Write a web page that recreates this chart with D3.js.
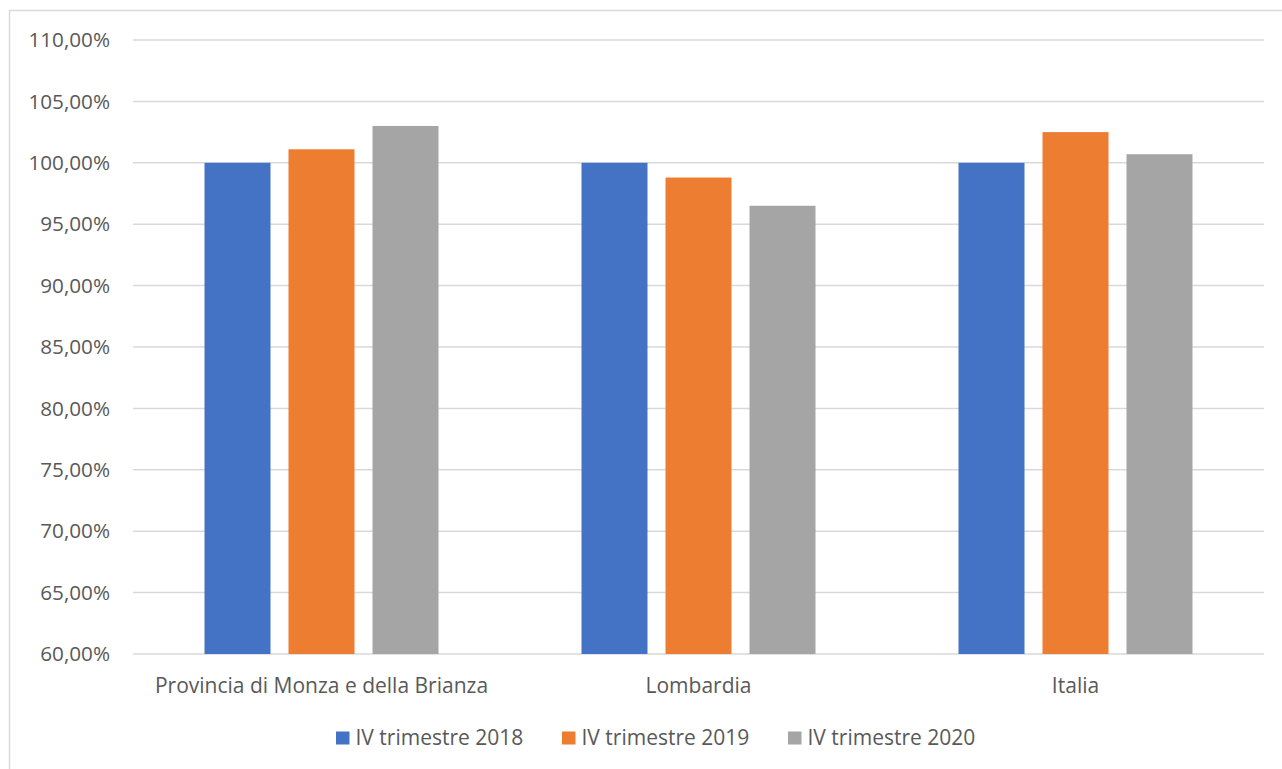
<!DOCTYPE html>
<html><head><meta charset="utf-8">
<script src="https://cdn.jsdelivr.net/npm/d3@7"></script>
<style>body{margin:0;background:#fff;} svg{display:block;}</style>
</head><body>
<script>
const categories = ["Provincia di Monza e della Brianza", "Lombardia", "Italia"];
const seriesNames = ["IV trimestre 2018", "IV trimestre 2019", "IV trimestre 2020"];
const values2018 = [100.0, 100.0, 100.0];
const values2019 = [101.1, 98.8, 102.5];
const values2020 = [103.0, 96.5, 100.7];
const yTicks = [60, 65, 70, 75, 80, 85, 90, 95, 100, 105, 110];
const colors = ["#4472C4", "#ED7D31", "#A5A5A5"];

const series = [values2018, values2019, values2020];
const W = 1282, H = 769;
const font = "'Open Sans', sans-serif";
const svg = d3.select("body").append("svg").attr("width", W).attr("height", H);
svg.append("rect").attr("x", 9.5).attr("y", 10.5).attr("width", W).attr("height", H)
  .attr("fill", "#fff").attr("stroke", "#d9d9d9").attr("stroke-width", 1.5);

const pLeft = 133, pRight = 1264, pTop = 40, pBottom = 654;
const x0 = d3.scaleBand().domain(categories).range([pLeft, pRight]).paddingInner(0).paddingOuter(0);
const x1 = d3.scaleBand().domain(seriesNames).range([71.5, x0.bandwidth() - 71.5]).paddingInner(18/84).paddingOuter(0);
const y = d3.scaleLinear().domain([60, 110]).range([pBottom, pTop]);

const grid = svg.append("g");
grid.selectAll("line").data(yTicks).join("line")
  .attr("x1", pLeft).attr("x2", pRight)
  .attr("y1", d => y(d)).attr("y2", d => y(d))
  .attr("stroke", "#d9d9d9").attr("stroke-width", 1.5);

const yAxis = d3.axisLeft(y).tickValues(yTicks)
  .tickFormat(d => d3.format(".2f")(d).replace(".", ",") + "%").tickSize(0).tickPadding(23);
const ya = svg.append("g").attr("transform", `translate(${pLeft},0)`).call(yAxis);
ya.select(".domain").remove();
ya.selectAll("text").attr("font-family", font).attr("font-size", 20.7).attr("fill", "#595959");

const groups = svg.append("g").selectAll("g").data(categories).join("g")
  .attr("transform", d => `translate(${x0(d)},0)`);
groups.selectAll("rect").data((c, i) => seriesNames.map((s, j) => ({s, v: series[j][i], j})))
  .join("rect")
  .attr("x", d => x1(d.s)).attr("width", x1.bandwidth())
  .attr("y", d => y(d.v)).attr("height", d => y(60) - y(d.v))
  .attr("fill", d => colors[d.j]);

const xAxis = d3.axisBottom(x0).tickSize(0).tickPadding(24);
const xa = svg.append("g").attr("transform", `translate(0,${pBottom})`).call(xAxis);
xa.select(".domain").remove();
xa.selectAll("text").attr("font-family", font).attr("font-size", 21).attr("fill", "#595959");

const legStep = 226, legStart = 336;
const leg = svg.append("g").selectAll("g").data(seriesNames).join("g")
  .attr("transform", (d, i) => `translate(${legStart + i * legStep},738)`);
leg.append("rect").attr("x", 0).attr("y", -6.5).attr("width", 13.5).attr("height", 13).attr("fill", (d, i) => colors[i]);
leg.append("text").attr("x", 19.5).attr("y", 0).attr("dy", "0.35em").text(d => d)
  .attr("font-family", font).attr("font-size", 21).attr("fill", "#595959");
</script>
</body></html>
